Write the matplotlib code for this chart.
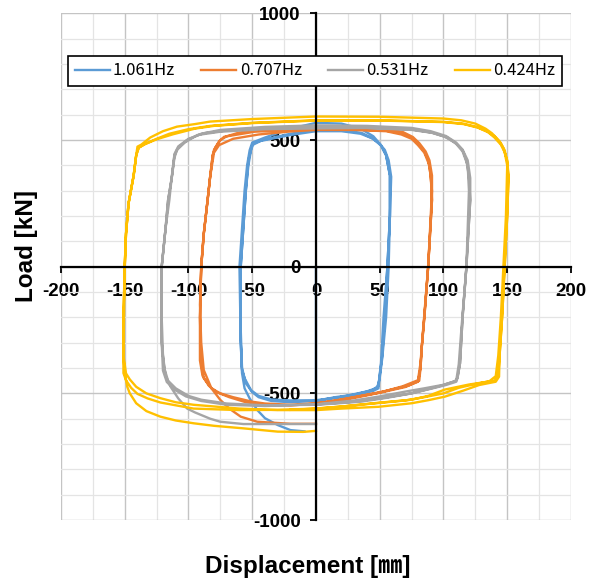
import numpy as np
import matplotlib.pyplot as plt
from matplotlib.ticker import MultipleLocator

plt.rcParams['font.family'] = ['Noto Sans CJK KR', 'DejaVu Sans']
plt.rcParams['axes.unicode_minus'] = False

labels = ['1.061Hz', '0.707Hz', '0.531Hz', '0.424Hz']
colors = ['#5B9BD5', '#ED7D31', '#A5A5A5', '#FFC000']

# (displacement [mm], load [kN])
pts_1061 = [(-9, -650), (-20, -645), (-30, -625), (-40, -598), (-46, -566), (-52, -520), (-56, -480), (-58, -420),
            (-59, -300), (-59, -150), (-59, 0), (-57, 150), (-55, 300), (-53, 400), (-51, 460), (-49, 487), (-45, 495),
            (-35, 505), (-20, 520), (0, 535), (20, 535), (35, 525), (44, 507), (50, 485), (54, 461), (57, 420), (59, 355),
            (58, 200), (56, 0), (54, -200), (52, -350), (50, -430), (49, -480), (45, -490), (35, -503), (22, -513),
            (0, -527), (-20, -528), (-35, -524), (-45, -510), (-51, -487), (-56, -440), (-58, -408), (-59, -300), (-60, 0),
            (-58, 150), (-56, 300), (-54, 400), (-52, 460), (-50, 490), (-40, 510), (-20, 545), (0, 568), (20, 565),
            (35, 545), (45, 515), (51, 480), (55, 440), (58, 360), (58, 200), (57, 0), (55, -200), (52, -360), (50, -440),
            (48, -478), (40, -492), (22, -512), (0, -530), (-20, -535), (-35, -530), (-45, -515), (-50, -495), (-55, -460),
            (-58, -400), (-59, -250), (-59, 0), (-57, 150), (-55, 300), (-53, 420), (-50, 480), (-42, 500), (-20, 525),
            (0, 540), (20, 540), (36, 528), (45, 505), (51, 478), (55, 440), (58, 360), (58, 200), (56, 0), (53, -200),
            (51, -380), (49, -470), (44, -488), (30, -505), (15, -515), (0, -530), (0, 0)]

pts_0707 = [(0, -620), (-20, -620), (-46, -612), (-59, -592), (-68, -560), (-75, -526), (-82, -480), (-88, -408),
            (-90, -300), (-91, -150), (-90, 0), (-88, 130), (-85, 263), (-83, 355), (-81, 440), (-80, 461), (-76, 495),
            (-72, 513), (-60, 523), (-48, 533), (-20, 540), (0, 542), (30, 542), (55, 537), (67, 527), (75, 510),
            (80, 487), (85, 455), (88, 421), (90, 360), (91, 263), (88, 0), (85, -200), (83, -316), (82, -400), (80, -454),
            (70, -475), (54, -493), (40, -508), (22, -526), (0, -539), (-20, -545), (-40, -540), (-50, -533), (-65, -515),
            (-75, -500), (-82, -480), (-88, -440), (-90, -380), (-91, -200), (-90, 0),
            (-88, 130), (-85, 263), (-83, 355), (-81, 440), (-79, 470), (-75, 500), (-70, 515), (-60, 530), (-45, 540),
            (-20, 548), (0, 552), (30, 552), (55, 545), (68, 532), (76, 512), (81, 488), (86, 455), (89, 420), (91, 360),
            (91, 263), (88, 0), (85, -200), (83, -316), (82, -400), (81, -450), (72, -470), (55, -490), (35, -510),
            (20, -525), (0, -540), (-20, -548), (-40, -545), (-55, -535), (-68, -515), (-78, -495), (-84, -470),
            (-89, -430), (-91, -370), (-91, -200), (-90, 0),
            (-88, 130), (-85, 263), (-83, 355), (-80, 450), (-76, 480), (-65, 505), (-45, 522), (-20, 534), (0, 540),
            (30, 540), (55, 535), (67, 522), (75, 505), (80, 480), (85, 450), (89, 400), (91, 300), (88, 0), (84, -250),
            (82, -380), (80, -448), (68, -472), (50, -497), (30, -515), (0, -541)]

pts_0531 = [(0, -621), (-30, -621), (-57, -621), (-75, -612), (-83, -600), (-95, -575), (-101, -560), (-108, -520),
            (-114, -474), (-118, -430), (-120, -350), (-121, -200), (-121, 0), (-118, 150), (-116, 263), (-113, 355),
            (-111, 430), (-109, 461), (-103, 490), (-93, 520), (-75, 533), (-40, 543), (0, 546), (40, 548), (75, 542),
            (90, 530), (101, 513), (109, 490), (115, 461), (118, 420), (120, 355), (121, 263), (118, 0), (115, -200),
            (113, -381), (111, -440), (110, -454), (102, -467), (90, -482), (75, -500), (55, -518), (35, -533), (0, -545),
            (-40, -547), (-70, -540), (-90, -525), (-100, -510), (-110, -480), (-116, -450), (-119, -400), (-121, -300),
            (-121, 0),
            (-118, 150), (-116, 263), (-113, 355), (-111, 440), (-108, 470), (-101, 500), (-90, 525), (-75, 540),
            (-40, 552), (0, 558), (40, 556), (75, 548), (90, 535), (102, 516), (110, 490), (115, 462), (119, 420),
            (121, 350), (121, 263), (118, 0), (115, -200), (113, -381), (111, -438), (109, -452), (100, -466), (85, -480),
            (70, -493), (50, -512), (30, -528), (0, -543), (-40, -550), (-70, -545), (-90, -530), (-102, -512),
            (-111, -485), (-117, -455), (-120, -410), (-121, -300), (-121, 0),
            (-118, 150), (-115, 263), (-113, 360), (-111, 445), (-108, 475), (-100, 505), (-88, 527), (-70, 538),
            (-40, 546), (0, 550), (40, 548), (75, 540), (92, 528), (103, 510), (110, 485), (115, 455), (119, 400),
            (120, 300), (118, 0), (114, -250), (112, -385), (110, -450), (98, -470), (75, -500), (50, -520), (25, -535),
            (0, -544)]

pts_0424 = [(0, -648), (-10, -652), (-30, -651), (-57, -638), (-80, -628), (-96, -618), (-110, -607), (-122, -592),
            (-133, -570), (-141, -539), (-146, -500), (-148, -474), (-150, -420), (-151, -350), (-151, -200), (-150, 0),
            (-149, 130), (-147, 250), (-143, 360), (-141, 440), (-140, 474), (-137, 482), (-130, 510), (-120, 535),
            (-109, 553), (-95, 563), (-83, 573), (-50, 583), (0, 593), (50, 592), (100, 585), (114, 578), (125, 565),
            (133, 545), (138, 527), (144, 495), (147, 467), (150, 420), (151, 360), (150, 200), (148, 0), (146, -200),
            (144, -350), (143.6, -434), (141, -454), (135, -460), (128, -467), (115, -490), (101, -513), (88, -527),
            (75, -539), (49, -553), (20, -560), (0, -566), (-30, -566), (-60, -560), (-96, -545), (-110, -535),
            (-122, -519), (-133, -500), (-141, -474), (-146, -445), (-149, -421), (-151, -350), (-151, -200), (-150, 0),
            (-149, 130), (-147, 250), (-143, 360), (-141, 440), (-139, 470), (-134, 485), (-125, 505), (-115, 525),
            (-100, 543), (-83, 556), (-50, 568), (0, 578), (50, 578), (100, 572), (115, 565), (126, 552), (134, 535),
            (140, 515), (145, 488), (148, 460), (150, 415), (151, 350), (150, 200), (148, 0), (146, -200), (144, -350),
            (143, -430), (140, -450), (132, -456), (120, -465), (101, -485), (88, -510), (75, -525), (49, -537),
            (20, -552), (0, -560), (-30, -565), (-60, -566), (-96, -560), (-110, -547), (-122, -536), (-132, -520),
            (-140, -502), (-145, -478), (-149, -448), (-151, -420), (-151, -350), (-150, 0),
            (-149, 130), (-147, 250), (-143, 360), (-141, 440), (-139, 470), (-134, 484), (-125, 503), (-112, 523),
            (-95, 545), (-80, 556), (-50, 567), (0, 577), (50, 577), (100, 571), (116, 563), (127, 549), (135, 531),
            (140, 510), (145, 482), (148, 452), (150, 400), (149, 200), (147, 0), (145, -200), (143, -350), (141, -432),
            (136, -452), (126, -462), (112, -478), (100, -500), (85, -515), (70, -528), (45, -540), (20, -552), (0, -560),
            (-20, -565)]

series = [pts_1061, pts_0707, pts_0531, pts_0424]

fig, ax = plt.subplots(figsize=(5.96, 5.83), dpi=100)
fig.subplots_adjust(left=0.1023, right=0.958, top=0.977, bottom=0.108)

for pts, lab, c in zip(series, labels, colors):
    xs, ys = zip(*pts)
    ax.plot(xs, ys, color=c, lw=1.7, label=lab, solid_joinstyle='round')

ax.set_xlim(-200, 200)
ax.set_ylim(-1000, 1000)
ax.xaxis.set_major_locator(MultipleLocator(50))
ax.xaxis.set_minor_locator(MultipleLocator(25))
ax.yaxis.set_major_locator(MultipleLocator(500))
ax.yaxis.set_minor_locator(MultipleLocator(100))
ax.grid(which='major', color='#C4C4C4', lw=1.0)
ax.grid(which='minor', color='#E4E4E4', lw=0.9)
ax.set_axisbelow(True)

ax.spines['left'].set_position(('data', 0))
ax.spines['bottom'].set_position(('data', 0))
ax.spines['top'].set_visible(False)
ax.spines['right'].set_visible(False)
for s in ['left', 'bottom']:
    ax.spines[s].set_color('black')
    ax.spines[s].set_linewidth(1.6)
ax.tick_params(which='major', direction='out', length=4, width=1.3, color='black')
ax.tick_params(which='minor', length=0)
ax.tick_params(axis='y', pad=7)
ax.tick_params(axis='x', pad=8)
tick_font = ['Liberation Sans', 'DejaVu Sans']
for t in ax.get_xticklabels() + ax.get_yticklabels():
    t.set_family(tick_font)
    t.set_fontsize(13.5)
    t.set_fontweight('bold')

leg = ax.legend(loc='lower left', bbox_to_anchor=(0.0137, 0.8565, 0.968, 0.065), mode='expand',
                ncol=4, borderaxespad=0, fancybox=False, edgecolor='black', framealpha=1,
                fontsize=12, handlelength=2.1, handletextpad=0.2, columnspacing=0.8)
leg.get_frame().set_linewidth(1.2)

fig.text(26 / 596, 1 - 246 / 583, 'Load [kN]', rotation=90, ha='center', va='center',
         fontsize=17.5, fontweight='bold', family=['Liberation Sans', 'Noto Sans CJK KR'])
fig.text(308 / 596, 1 - 566 / 583, 'Displacement [㎜]', ha='center', va='center',
         fontsize=17.5, fontweight='bold', family=['Liberation Sans', 'Noto Sans CJK KR'])

plt.savefig('out.png')
